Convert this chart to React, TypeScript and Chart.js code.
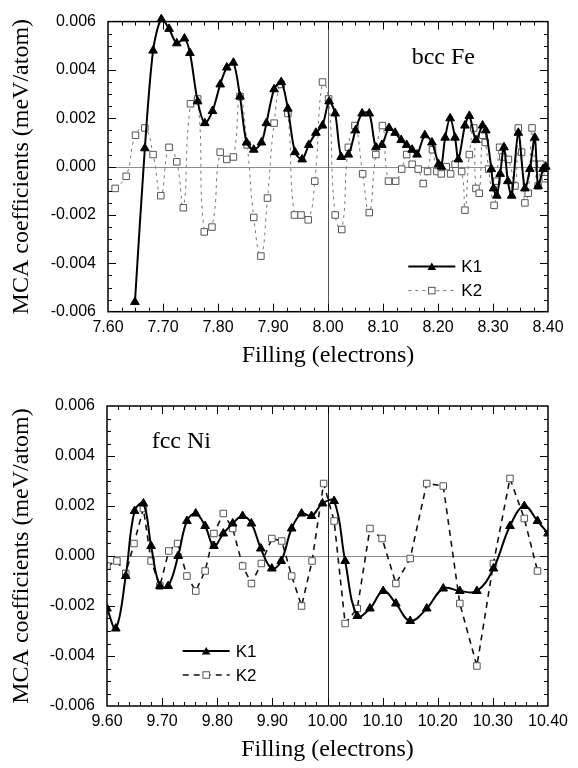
import React, { useEffect, useRef } from "react";
import { Chart, registerables } from "chart.js";
Chart.register(...registerables);

// ---------- bcc Fe (top panel) ----------
const feK1Filling = [7.649, 7.667, 7.682, 7.697, 7.711, 7.725, 7.739, 7.749, 7.763, 7.776, 7.79, 7.804, 7.816, 7.828, 7.84, 7.852, 7.865, 7.879, 7.888, 7.902, 7.915, 7.927, 7.94, 7.953, 7.965, 7.978, 7.99, 8.002, 8.013, 8.024, 8.037, 8.05, 8.062, 8.075, 8.087, 8.098, 8.111, 8.122, 8.133, 8.143, 8.153, 8.162, 8.176, 8.189, 8.201, 8.206, 8.213, 8.222, 8.231, 8.237, 8.249, 8.257, 8.269, 8.281, 8.287, 8.297, 8.301, 8.307, 8.313, 8.32, 8.327, 8.334, 8.346, 8.358, 8.367, 8.376, 8.382, 8.391, 8.396];
const feK1Values = [-0.0056, 0.00076, 0.0048, 0.0061, 0.0057, 0.0051, 0.0053, 0.0047, 0.0027, 0.0018, 0.0023, 0.0034, 0.0041, 0.0043, 0.0029, 0.001, 0.0007, 0.001, 0.0018, 0.0032, 0.0035, 0.0024, 0.0006, 0.0003, 0.0009, 0.0014, 0.0017, 0.0027, 0.0022, 0.0004, 0.0005, 0.0015, 0.0022, 0.0022, 0.0008, 0.0009, 0.0016, 0.0014, 0.0011, 0.0009, 0.0007, 0.0005, 0.0013, 0.001, 0.0001, 0.0, 0.0012, 0.002, 0.0012, 0.0003, 0.0017, 0.0021, 0.0011, 0.0017, 0.0015, -0.0001, -0.0009, -0.0012, -0.0003, 0.0008, -0.0006, -0.0012, 0.0014, -0.0009, -0.0001, 0.0012, -0.0008, -0.0001, 0.0];
const feK2Filling = [7.613, 7.633, 7.65, 7.667, 7.682, 7.696, 7.711, 7.725, 7.737, 7.75, 7.763, 7.775, 7.789, 7.804, 7.816, 7.828, 7.84, 7.853, 7.865, 7.878, 7.89, 7.902, 7.915, 7.927, 7.939, 7.951, 7.964, 7.976, 7.99, 8.001, 8.013, 8.025, 8.037, 8.049, 8.063, 8.075, 8.087, 8.099, 8.11, 8.123, 8.134, 8.143, 8.153, 8.164, 8.173, 8.181, 8.19, 8.198, 8.206, 8.215, 8.223, 8.231, 8.243, 8.249, 8.257, 8.265, 8.269, 8.275, 8.281, 8.286, 8.292, 8.302, 8.307, 8.312, 8.318, 8.328, 8.34, 8.346, 8.352, 8.358, 8.364, 8.371, 8.376, 8.382, 8.387, 8.395];
const feK2Values = [-0.0009, -0.0004, 0.0013, 0.0016, 0.0005, -0.0012, 0.0008, 0.0002, -0.0017, 0.0026, 0.0028, -0.0027, -0.0025, 0.0006, 0.0003, 0.0004, 0.0029, 0.0009, -0.0021, -0.0037, -0.0013, 0.0018, 0.0034, 0.0022, -0.002, -0.002, -0.0022, -0.0006, 0.0035, 0.0028, -0.002, -0.0026, 0.0008, 0.0017, -0.0003, -0.0019, 0.0005, 0.0017, -0.0006, -0.0006, -0.0001, 0.0005, 0.0001, -0.0001, -0.0007, -0.0002, 0.0007, -0.0002, -0.0003, 0.0, -0.0003, 0.0001, -0.0002, -0.0018, 0.0005, 0.0016, -0.0009, -0.0011, 0.0013, 0.001, -0.0001, -0.0016, -0.0006, 0.0008, 0.0004, 0.0003, -0.0008, 0.0016, 0.0006, -0.0015, -0.0011, 0.0016, 0.0001, -0.0008, 0.0001, -0.0005];
const feXTicks = [7.6, 7.7, 7.8, 7.9, 8.0, 8.1, 8.2, 8.3, 8.4];

// ---------- fcc Ni (bottom panel) ----------
const niK1Filling = [9.6, 9.616, 9.634, 9.65, 9.666, 9.68, 9.696, 9.711, 9.729, 9.745, 9.761, 9.778, 9.794, 9.811, 9.828, 9.846, 9.862, 9.879, 9.899, 9.916, 9.935, 9.953, 9.971, 9.991, 10.012, 10.032, 10.054, 10.077, 10.101, 10.124, 10.15, 10.18, 10.21, 10.24, 10.271, 10.301, 10.331, 10.357, 10.381, 10.4];
const niK1Values = [-0.0021, -0.0029, -0.0008, 0.0018, 0.0021, 0.0004, -0.0012, -0.0012, 0.0, 0.0014, 0.0017, 0.0012, 0.0004, 0.0009, 0.0013, 0.0016, 0.0013, 0.0003, -0.0005, -0.0002, 0.0011, 0.0017, 0.0016, 0.0021, 0.0022, -0.0002, -0.0024, -0.0021, -0.0014, -0.0019, -0.0026, -0.0021, -0.0013, -0.0014, -0.0014, -0.0005, 0.0012, 0.002, 0.0014, 0.0009];
const niK2Filling = [9.6, 9.618, 9.634, 9.649, 9.666, 9.68, 9.696, 9.712, 9.728, 9.745, 9.761, 9.778, 9.794, 9.811, 9.828, 9.846, 9.862, 9.88, 9.899, 9.917, 9.935, 9.953, 9.972, 9.993, 10.012, 10.032, 10.054, 10.077, 10.099, 10.124, 10.15, 10.18, 10.21, 10.24, 10.271, 10.301, 10.331, 10.357, 10.381];
const niK2Values = [-0.0004, -0.0002, -0.0007, 0.0005, 0.0019, -0.0002, -0.0012, 0.0002, 0.0005, -0.0008, -0.0014, -0.0006, 0.0009, 0.0017, 0.0011, -0.0004, -0.0011, -0.0003, 0.0007, 0.0006, -0.0008, -0.002, -0.0002, 0.0029, 0.0014, -0.0027, -0.0021, 0.0011, 0.0007, -0.0011, -0.0001, 0.0029, 0.0028, -0.0019, -0.0044, -0.0003, 0.0031, 0.0015, -0.0006];
const niXTicks = [9.6, 9.7, 9.8, 9.9, 10.0, 10.1, 10.2, 10.3, 10.4];

const yTicks = [-0.006, -0.004, -0.002, 0, 0.002, 0.004, 0.006];
const seriesNames = ["K1", "K2"];
const yTitle = "MCA coefficients (meV/atom)";
const xTitle = "Filling (electrons)";

const SANS = '"Liberation Sans", Arial, sans-serif';
const SERIF = '"Liberation Serif", "Times New Roman", serif';

function pts(xs: number[], ys: number[]) {
  return xs.map((x, i) => ({ x, y: ys[i] }));
}

function tri(ctx: CanvasRenderingContext2D, x: number, y: number, r: number) {
  ctx.beginPath();
  ctx.moveTo(x, y - r);
  ctx.lineTo(x + 0.866 * r, y + 0.5 * r);
  ctx.lineTo(x - 0.866 * r, y + 0.5 * r);
  ctx.closePath();
  ctx.fillStyle = "#000";
  ctx.fill();
}
function sq(ctx: CanvasRenderingContext2D, x: number, y: number, s: number, color: string) {
  ctx.fillStyle = "#fff";
  ctx.fillRect(x - s / 2, y - s / 2, s, s);
  ctx.strokeStyle = color;
  ctx.lineWidth = 1;
  ctx.setLineDash([]);
  ctx.strokeRect(x - s / 2, y - s / 2, s, s);
}

interface PanelStyle {
  xMin: number;
  xMax: number;
  xMinorStep: number;
  xMajorEvery: number;
  vline: number;
  vlineColor: string;
  label: string;
  labelDx: number;
  legendDx: number;
  k2Color: string;
  k2Width: number;
  k2Dash: number[];
}

function framePlugin(p: PanelStyle) {
  return {
    id: "frame",
    beforeDatasetsDraw(chart: any) {
      const { ctx, chartArea: a, scales } = chart;
      const x = scales.x, y = scales.y;
      ctx.save();
      ctx.lineWidth = 1;
      ctx.strokeStyle = "#8c8c8c";
      const y0 = Math.round(y.getPixelForValue(0)) + 0.5;
      ctx.beginPath();
      ctx.moveTo(a.left, y0);
      ctx.lineTo(a.right, y0);
      ctx.stroke();
      ctx.strokeStyle = p.vlineColor;
      const xv = Math.round(x.getPixelForValue(p.vline)) + 0.5;
      ctx.beginPath();
      ctx.moveTo(xv, a.top);
      ctx.lineTo(xv, a.bottom);
      ctx.stroke();
      ctx.restore();
    },
    afterDatasetsDraw(chart: any) {
      const { ctx, chartArea: a, scales } = chart;
      const x = scales.x, y = scales.y;
      ctx.save();
      ctx.strokeStyle = "#000";
      ctx.lineWidth = 1;
      // x ticks (inward, top and bottom)
      const nx = Math.round((p.xMax - p.xMin) / p.xMinorStep);
      for (let i = 1; i < nx; i++) {
        const px = Math.round(x.getPixelForValue(p.xMin + i * p.xMinorStep)) + 0.5;
        const len = i % p.xMajorEvery === 0 ? 8 : 4;
        ctx.beginPath();
        ctx.moveTo(px, a.bottom);
        ctx.lineTo(px, a.bottom - len);
        ctx.moveTo(px, a.top);
        ctx.lineTo(px, a.top + len);
        ctx.stroke();
      }
      // y ticks (inward, left and right)
      const ny = 24;
      for (let i = 1; i < ny; i++) {
        const py = Math.round(y.getPixelForValue(-0.006 + i * 0.0005)) + 0.5;
        const len = i % 4 === 0 ? 8 : 4;
        ctx.beginPath();
        ctx.moveTo(a.left, py);
        ctx.lineTo(a.left + len, py);
        ctx.moveTo(a.right, py);
        ctx.lineTo(a.right - len, py);
        ctx.stroke();
      }
      ctx.lineWidth = 1.5;
      ctx.strokeRect(a.left, a.top, a.right - a.left, a.bottom - a.top);
      ctx.restore();
    },
    afterDraw(chart: any) {
      const { ctx, chartArea: a } = chart;
      ctx.save();
      // panel label
      ctx.fillStyle = "#000";
      ctx.font = `24px ${SERIF}`;
      ctx.textAlign = "left";
      ctx.textBaseline = "alphabetic";
      ctx.fillText(p.label, a.left + p.labelDx, a.top + 42.3);
      // legend
      const lx0 = a.left + p.legendDx;
      const lx1 = lx0 + 47;
      const mx = (lx0 + lx1) / 2;
      const ly1 = a.top + 245;
      const ly2 = a.top + 269;
      ctx.strokeStyle = "#000";
      ctx.lineWidth = 2;
      ctx.setLineDash([]);
      ctx.beginPath();
      ctx.moveTo(lx0, ly1);
      ctx.lineTo(lx1, ly1);
      ctx.stroke();
      tri(ctx, mx, ly1 + 1, 5);
      ctx.strokeStyle = p.k2Color;
      ctx.lineWidth = p.k2Width;
      ctx.setLineDash(p.k2Dash);
      ctx.beginPath();
      ctx.moveTo(lx0, ly2);
      ctx.lineTo(lx1, ly2);
      ctx.stroke();
      sq(ctx, mx, ly2, 6.5, "#555");
      ctx.fillStyle = "#000";
      ctx.font = `17px ${SANS}`;
      ctx.textBaseline = "middle";
      ctx.fillText(seriesNames[0], lx1 + 6, ly1 + 1);
      ctx.fillText(seriesNames[1], lx1 + 6, ly2 + 1);
      ctx.restore();
    },
  };
}

function makeConfig(
  k1: { x: number; y: number }[],
  k2: { x: number; y: number }[],
  xTicks: number[],
  p: PanelStyle,
  plotTop: number,
  axisHeight: number,
  titleBottomPad: number,
  k1Tension: number,
  k2Tension: number,
  k1Clip: boolean
): any {
  return {
    type: "line",
    data: {
      datasets: [
        {
          label: seriesNames[0],
          data: k1,
          borderColor: "#000",
          borderWidth: 2,
          pointStyle: "triangle",
          pointRadius: 5,
          pointBackgroundColor: "#000",
          pointBorderColor: "#000",
          pointBorderWidth: 1,
          tension: k1Tension,
          fill: false,
          clip: k1Clip ? undefined : false,
        },
        {
          label: seriesNames[1],
          data: k2,
          borderColor: p.k2Color,
          borderWidth: p.k2Width,
          borderDash: p.k2Dash,
          pointStyle: "rect",
          pointRadius: 4.6,
          pointBackgroundColor: "#fff",
          pointBorderColor: "#555",
          pointBorderWidth: 1,
          tension: k2Tension,
          fill: false,
        },
      ],
    },
    options: {
      responsive: false,
      animation: false,
      events: [],
      layout: { padding: { left: 0, right: 30, top: plotTop, bottom: 0 } },
      plugins: { legend: { display: false }, tooltip: { enabled: false } },
      scales: {
        x: {
          type: "linear",
          min: p.xMin,
          max: p.xMax,
          grid: { display: false, drawTicks: false },
          border: { display: false },
          afterBuildTicks: (s: any) => {
            s.ticks = xTicks.map((v) => ({ value: v }));
          },
          afterFit: (s: any) => {
            s.height = axisHeight;
          },
          ticks: {
            padding: 6,
            color: "#000",
            maxRotation: 0,
            autoSkip: false,
            font: { family: SANS, size: 16 },
            callback: (v: any) => Number(v).toFixed(2),
          },
          title: {
            display: true,
            text: xTitle,
            color: "#000",
            font: { family: SERIF, size: 24 },
            padding: { top: 0, bottom: titleBottomPad },
          },
        },
        y: {
          type: "linear",
          min: -0.006,
          max: 0.006,
          grid: { display: false, drawTicks: false },
          border: { display: false },
          afterBuildTicks: (s: any) => {
            s.ticks = yTicks.map((v) => ({ value: v }));
          },
          afterFit: (s: any) => {
            s.width = xTicks === feXTicks ? 108 : 107;
          },
          ticks: {
            padding: 12,
            color: "#000",
            font: { family: SANS, size: 16 },
            callback: (v: any) => Number(v).toFixed(3),
          },
          title: {
            display: true,
            text: yTitle,
            color: "#000",
            font: { family: SERIF, size: 24 },
            padding: { top: 7.6, bottom: 0 },
          },
        },
      },
    },
    plugins: [framePlugin(p)],
  };
}

function Panel({ top, config }: { top: number; config: () => any }) {
  const ref = useRef<HTMLCanvasElement>(null);
  useEffect(() => {
    const chart = new Chart(ref.current as HTMLCanvasElement, config());
    return () => chart.destroy();
  }, []);
  return (
    <canvas
      ref={ref}
      width={578}
      height={384}
      style={{ position: "absolute", left: 0, top, width: 578, height: 384 }}
    />
  );
}

const feStyle: PanelStyle = {
  xMin: 7.6,
  xMax: 8.4,
  xMinorStep: 0.025,
  xMajorEvery: 4,
  vline: 8.0,
  vlineColor: "#555",
  label: "bcc Fe",
  labelDx: 303.7,
  legendDx: 300.3,
  k2Color: "#777",
  k2Width: 1,
  k2Dash: [3, 4],
};
const niStyle: PanelStyle = {
  xMin: 9.6,
  xMax: 10.4,
  xMinorStep: 0.02,
  xMajorEvery: 5,
  vline: 10.0,
  vlineColor: "#222",
  label: "fcc Ni",
  labelDx: 44.7,
  legendDx: 75.7,
  k2Color: "#111",
  k2Width: 1.6,
  k2Dash: [6, 5],
};

export default function App() {
  return (
    <div style={{ position: "absolute", left: 0, top: 0, width: 578, height: 768, background: "#fff" }}>
      <Panel
        top={0}
        config={() =>
          makeConfig(pts(feK1Filling, feK1Values), pts(feK2Filling, feK2Values), feXTicks, feStyle, 12.7, 72.3, 14, 0.3, 0.5, false)
        }
      />
      <Panel
        top={384}
        config={() =>
          makeConfig(pts(niK1Filling, niK1Values), pts(niK2Filling, niK2Values), niXTicks, niStyle, 22, 62, 4, 0.4, 0, true)
        }
      />
    </div>
  );
}
